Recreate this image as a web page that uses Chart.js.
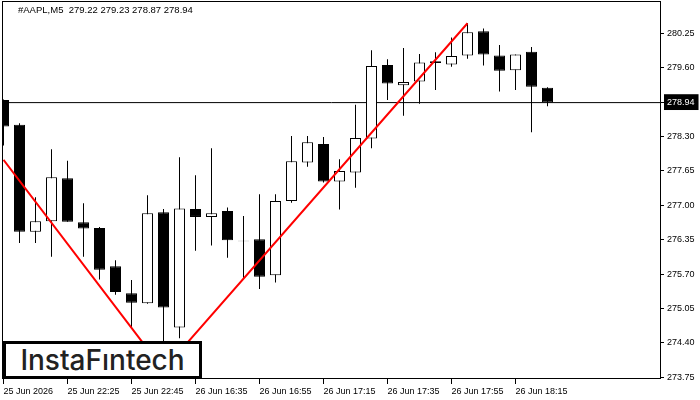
<!DOCTYPE html>
<html>
<head>
<meta charset="utf-8">
<title>#AAPL,M5</title>
<script src="https://cdn.jsdelivr.net/npm/chart.js@4.4.1/dist/chart.umd.min.js"></script>
<style>
  body { margin: 0; background: #fff; }
  #wrap { position: relative; width: 700px; height: 400px; }
  #hdr { position: absolute; left: 18px; top: 4px; font: 9.5px "Liberation Sans", Arial, sans-serif; white-space: pre; color: #000; }
  #logo { position: absolute; left: 3px; top: 341px; width: 193px; height: 32px; border: 3px solid #000; background: #fff;
          display: flex; align-items: center; justify-content: center; font: 500 28px Inter, sans-serif; color: #222; }
</style>
</head>
<body>
<div id="wrap">
  <canvas id="chart" width="700" height="400"></canvas>
  <div id="hdr">#AAPL,M5  279.22 279.23 278.87 278.94</div>
  <div id="logo">InstaFıntech</div>
</div>
<script>
// candle slots (one per 5 min bar, gap overnight between slot 10 and 11)
const slots  = [0, 1, 2, 3, 4, 5, 6, 7, 8, 9, 10, 11, 12, 13, 14, 15, 16, 17, 18, 19, 20, 21, 22, 23, 24, 25, 26, 27, 28, 29, 30, 31, 32, 33, 34];
const opens  = [278.99, 278.52, 276.50, 276.70, 277.51, 276.68, 276.57, 275.85, 275.34, 275.15, 276.87, 274.69, 276.93, 276.78, 276.89, 276.33, 276.36, 275.68, 277.08, 277.81, 278.16, 277.45, 277.62, 278.26, 279.65, 279.27, 279.34, 279.72, 279.66, 279.83, 280.29, 279.83, 279.55, 279.90, 279.22];
const highs  = [279.00, 278.55, 277.15, 278.06, 277.84, 277.04, 276.59, 275.96, 275.59, 277.19, 276.93, 277.91, 277.57, 278.08, 276.96, 276.80, 277.21, 277.21, 278.31, 278.31, 278.29, 277.87, 278.90, 279.93, 279.76, 279.97, 279.86, 279.89, 280.17, 280.44, 280.34, 280.03, 279.85, 279.99, 279.23];
const lows   = [278.13, 276.29, 276.29, 276.03, 276.69, 276.03, 275.60, 275.31, 274.70, 275.14, 273.89, 274.49, 276.14, 276.24, 276.01, 275.62, 275.42, 275.54, 277.05, 277.73, 277.43, 276.92, 277.33, 278.08, 278.99, 278.69, 278.92, 279.18, 279.62, 279.77, 279.64, 279.15, 279.18, 278.38, 278.87];
const closes = [278.49, 276.50, 276.70, 277.53, 276.69, 276.56, 275.78, 275.36, 275.16, 276.85, 275.07, 276.94, 276.78, 276.85, 276.34, 276.32, 275.65, 277.08, 277.83, 278.19, 277.45, 277.65, 278.27, 279.63, 279.30, 279.33, 279.70, 279.69, 279.82, 280.27, 279.85, 279.54, 279.85, 279.24, 278.94];

const lastPrice = 278.94;

// axis ticks
const yTicks = [273.75, 274.40, 275.05, 275.70, 276.35, 277.00, 277.65, 278.30, 278.94, 279.60, 280.25];
const xTickSlots = [0, 4, 8, 12, 16, 20, 24, 28, 32];
const xLabels = ['25 Jun 2026', '25 Jun 22:25', '25 Jun 22:45', '26 Jun 16:35', '26 Jun 16:55', '26 Jun 17:15', '26 Jun 17:35', '26 Jun 17:55', '26 Jun 18:15'];

// red trend lines (anchor slot / price)
const trendSlots  = [0, 10, 29];
const trendPrices = [277.86, 273.89, 280.44];

const xMin = -0.03125, xMax = 41.03125;
const yMin = 273.737, yMax = 280.841;

const tickFont = { family: '"Liberation Sans", Arial, sans-serif', size: 9 };

const bodies = slots.map((s, i) => ({ x: s, y: [opens[i], closes[i]] }));
const wicks = slots.map((s, i) => ({ x: s, y: [lows[i], highs[i]] }));
const bodyFill = slots.map((s, i) => closes[i] > opens[i] ? '#ffffff' : '#000000');

const framePlugin = {
  id: 'frame',
  afterDatasetsDraw(chart) {
    const { ctx, chartArea: a } = chart;
    ctx.save();
    ctx.strokeStyle = '#000';
    ctx.lineWidth = 1;
    ctx.strokeRect(a.left - 0.5, a.top - 0.5, a.right - a.left + 1, a.bottom - a.top + 1);
    ctx.restore();
  }
};

new Chart(document.getElementById('chart'), {
  type: 'bar',
  data: {
    datasets: [
      {
        type: 'line',
        data: [{ x: xMin, y: lastPrice }, { x: xMax, y: lastPrice }],
        borderColor: '#000',
        borderWidth: 1,
        pointRadius: 0,
        clip: 0,
        order: 3,
      },
      {
        data: wicks,
        backgroundColor: '#000',
        borderWidth: 0,
        barThickness: 1,
        stack: 'c',
        inflateAmount: 0,
        clip: 0,
        order: 2,
      },
      {
        data: bodies,
        backgroundColor: bodyFill,
        borderColor: '#000',
        borderWidth: 1,
        borderSkipped: false,
        barThickness: 11,
        stack: 'c',
        inflateAmount: 0,
        clip: 0,
        order: 1,
      },
      {
        type: 'line',
        data: trendSlots.map((s, i) => ({ x: s, y: trendPrices[i] })),
        borderColor: '#ff0000',
        borderWidth: 2,
        pointRadius: 0,
        tension: 0,
        clip: 0,
        order: 0,
      },
    ],
  },
  options: {
    responsive: false,
    animation: false,
    devicePixelRatio: 1,
    layout: { padding: { left: 3, top: 2, right: 0, bottom: 0 } },
    plugins: { legend: { display: false }, tooltip: { enabled: false } },
    scales: {
      x: {
        type: 'linear',
        min: xMin,
        max: xMax,
        offset: false,
        stacked: true,
        grid: { offset: false, drawOnChartArea: false, drawTicks: true, tickLength: 6, color: '#000' },
        border: { display: false },
        afterBuildTicks: axis => { axis.ticks = xTickSlots.map(v => ({ value: v })); },
        afterFit: scale => { scale.height = 22; scale.paddingLeft = 0; scale.paddingRight = 0; },
        ticks: {
          autoSkip: false,
          maxRotation: 0,
          align: 'start',
          padding: 2,
          color: '#000',
          font: tickFont,
          callback: (v, i) => xLabels[i],
        },
      },
      y: {
        type: 'linear',
        position: 'right',
        min: yMin,
        max: yMax,
        stacked: false,
        grid: { drawOnChartArea: false, drawTicks: true, tickLength: 4, color: '#000' },
        border: { display: false },
        afterBuildTicks: axis => { axis.ticks = yTicks.map(v => ({ value: v })); },
        afterFit: scale => { scale.width = 40; scale.paddingTop = 0; scale.paddingBottom = 0; },
        ticks: {
          padding: 3,
          font: tickFont,
          color: c => c.tick.value === lastPrice ? '#fff' : '#000',
          showLabelBackdrop: true,
          backdropColor: c => c.tick.value === lastPrice ? '#000' : 'rgba(0,0,0,0)',
          backdropPadding: { top: 3, bottom: 2, left: 3, right: 4 },
          callback: v => v.toFixed(2),
        },
      },
    },
  },
  plugins: [framePlugin],
});
</script>
</body>
</html>
